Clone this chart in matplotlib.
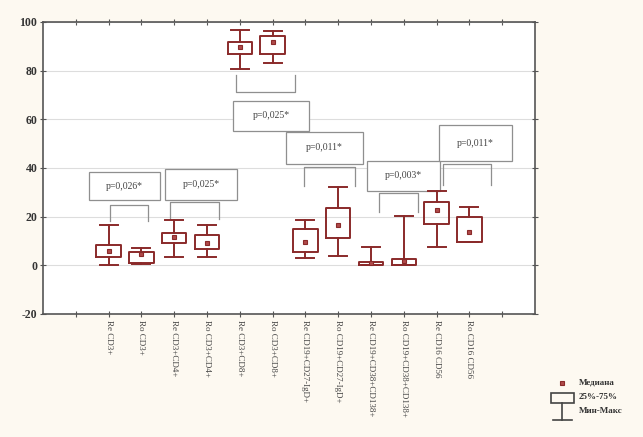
import matplotlib
matplotlib.use('Agg')
import matplotlib.pyplot as plt
from matplotlib.patches import Rectangle

# box plot summary per group: min, q25, median, q75, max
labels = ['Re CD3+', 'Ro CD3+', 'Re CD3+CD4+', 'Ro CD3+CD4+',
          'Re CD3+CD8+', 'Ro CD3+CD8+', 'Re CD19+CD27-IgD+', 'Ro CD19+CD27-IgD+',
          'Re CD19+CD38+CD138+', 'Ro CD19+CD38+CD138+', 'Re CD16 CD56', 'Ro CD16 CD56']
mins = [0.2, 0.5, 3.5, 3.5, 80.8, 83.3, 3.0, 3.9, 0.0, 0.0, 7.4, 9.4]
q25 = [3.5, 0.8, 9.0, 6.7, 87.0, 87.0, 5.3, 11.3, 0.0, 0.0, 16.8, 9.4]
medians = [5.7, 4.6, 11.5, 9.0, 89.8, 91.8, 9.4, 16.4, 0.8, 1.9, 22.6, 13.6]
q75 = [8.4, 5.6, 13.3, 12.5, 91.8, 94.1, 15.0, 23.7, 1.2, 2.6, 26.0, 19.8]
maxs = [16.4, 7.0, 18.8, 16.6, 96.7, 96.2, 18.8, 32.0, 7.4, 20.2, 30.5, 23.9]

# significance annotations: text, text box (x0, x1, y0, y1), bracket legs (xl, xr), bracket base, leg end
p_texts = ['p=0,026*', 'p=0,025*', 'p=0,025*', 'p=0,011*', 'p=0,003*', 'p=0,011*']
p_boxes = [(0.40, 2.57, 26.7, 38.2), (2.72, 4.92, 26.7, 39.4), (4.80, 7.10, 55.2, 67.7),
           (6.42, 8.75, 41.6, 55.0), (8.87, 11.10, 30.5, 43.0), (11.07, 13.30, 43.0, 57.5)]
p_legs = [(1.04, 2.20), (2.87, 4.37), (4.89, 6.67), (6.97, 8.50), (9.24, 10.43), (11.19, 12.66)]
p_base = [25.0, 26.2, 71.1, 40.5, 29.7, 41.6]
p_leg_end = [18.4, 19.2, 78.4, 32.5, 21.9, 32.9]

box_color = '#8a2a2a'
grey = '#8f8f8f'

fig = plt.figure(figsize=(6.43, 4.37), dpi=100, facecolor='#fdf9f1')
ax = fig.add_axes([43/643, 1 - 314/437, (535 - 43)/643, (314 - 22)/437])
ax.set_facecolor('white')

positions = list(range(1, len(labels) + 1))
stats = [dict(whislo=mins[i], q1=q25[i], med=medians[i], q3=q75[i], whishi=maxs[i])
         for i in range(len(labels))]
ax.bxp(stats, positions=positions, widths=0.74, showfliers=False,
       boxprops=dict(color=box_color, lw=1.4),
       whiskerprops=dict(color=box_color, lw=1.4),
       capprops=dict(color=box_color, lw=1.4),
       medianprops=dict(linestyle='none'), capwidths=0.55, zorder=3)
ax.plot(positions, medians, 's', ms=3.2, mfc='#b04a4a', mec=box_color, mew=0.8, zorder=4)

# p-value boxes with brackets
for i, t in enumerate(p_texts):
    x0, x1, y0, y1 = p_boxes[i]
    ax.add_patch(Rectangle((x0, y0), x1 - x0, y1 - y0, fill=True, fc='white',
                           ec=grey, lw=0.9, zorder=2))
    ax.text((x0 + x1) / 2, (y0 + y1) / 2, t, ha='center', va='center',
            fontsize=7, family='Liberation Serif', color='#444444', zorder=3)
    xl, xr = p_legs[i]
    ax.plot([xl, xl, xr, xr], [p_leg_end[i], p_base[i], p_base[i], p_leg_end[i]],
            color=grey, lw=0.9, zorder=2)

ax.set_xlim(-1, 14)
ax.set_ylim(-20, 100)
ax.set_yticks(range(-20, 101, 20))
ax.set_yticklabels([str(v) for v in range(-20, 101, 20)], fontsize=8.5,
                   family='Liberation Serif', fontweight='bold', color='#333333')
ax.set_xticks(range(0, 14))
ax.set_xticklabels([''] + labels + [''], rotation=270, fontsize=6.5,
                   family='Liberation Serif', color='#444444', va='top', ha='center')
ax.yaxis.grid(True, color='#dddddd', lw=0.8)
ax.set_axisbelow(True)
ax.tick_params(direction='inout', length=4, width=0.8, color='#555555',
               top=True, right=True, pad=2)
for s in ax.spines.values():
    s.set_color('#555555')
    s.set_linewidth(1.2)

# legend drawn in pixel units
lg = fig.add_axes([540/643, 7/437, 103/643, 55/437])
lg.set_xlim(540, 643)
lg.set_ylim(430, 375)
lg.axis('off')
lg.plot([562], [383], 's', ms=3.2, mfc='#b04a4a', mec=box_color, mew=0.8)
lg.add_patch(Rectangle((551, 393), 23, 10, fill=False, ec='#444444', lw=1.2))
lg.plot([562.5, 562.5], [403, 420], color='#444444', lw=1.2)
lg.plot([553, 572], [420, 420], color='#444444', lw=1.2)
for y, t in zip([383, 397, 411], ['Медиана', '25%-75%', 'Мин-Макс']):
    lg.text(579, y, t, fontsize=6.5, family='Liberation Serif', fontweight='bold',
            color='#333333', va='center', ha='left', clip_on=False)

fig.savefig('out.png', dpi=100, facecolor=fig.get_facecolor())
